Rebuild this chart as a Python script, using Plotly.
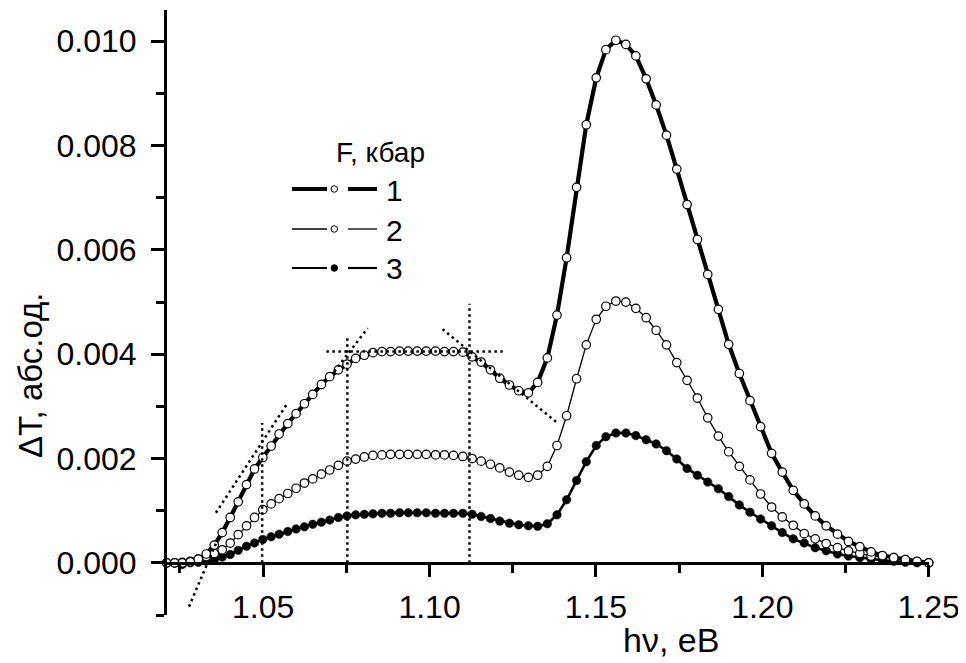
import plotly.graph_objects as go

# photon energy, eV (common grid for all curves)
hv = [1.0210, 1.0234, 1.0257, 1.0281, 1.0305, 1.0329, 1.0353, 1.0377, 1.0401, 1.0425,
      1.0450, 1.0474, 1.0499, 1.0524, 1.0548, 1.0574, 1.0599, 1.0624, 1.0649, 1.0675,
      1.0700, 1.0726, 1.0752, 1.0778, 1.0804, 1.0830, 1.0857, 1.0883, 1.0910, 1.0936,
      1.0963, 1.0990, 1.1018, 1.1045, 1.1072, 1.1100, 1.1128, 1.1155, 1.1183, 1.1211,
      1.1240, 1.1268, 1.1297, 1.1325, 1.1354, 1.1383, 1.1412, 1.1442, 1.1471, 1.1501,
      1.1530, 1.1560, 1.1590, 1.1620, 1.1651, 1.1681, 1.1712, 1.1743, 1.1774, 1.1805,
      1.1836, 1.1868, 1.1899, 1.1931, 1.1963, 1.1995, 1.2028, 1.2060, 1.2093, 1.2126,
      1.2159, 1.2192, 1.2226, 1.2259, 1.2293, 1.2327, 1.2361, 1.2395, 1.2430, 1.2465,
      1.2500]

# curve 1
dT1 = [0.00000, 0.00000, 0.00000, 0.00002, 0.00007, 0.00017, 0.00034, 0.00058, 0.00087, 0.00117,
       0.00150, 0.00180, 0.00202, 0.00224, 0.00247, 0.00267, 0.00286, 0.00305, 0.00323, 0.00342,
       0.00357, 0.00370, 0.00381, 0.00392, 0.00398, 0.00403, 0.00405, 0.00405, 0.00406, 0.00406,
       0.00406, 0.00406, 0.00406, 0.00405, 0.00405, 0.00404, 0.00395, 0.00385, 0.00370, 0.00354,
       0.00341, 0.00330, 0.00326, 0.00346, 0.00393, 0.00475, 0.00585, 0.00720, 0.00840, 0.00930,
       0.00984, 0.01002, 0.00994, 0.00972, 0.00928, 0.00878, 0.00820, 0.00755, 0.00687, 0.00620,
       0.00553, 0.00486, 0.00419, 0.00363, 0.00311, 0.00261, 0.00210, 0.00174, 0.00139, 0.00113,
       0.00090, 0.00071, 0.00055, 0.00041, 0.00031, 0.00021, 0.00014, 0.00010, 0.00006, 0.00003,
       0.00000]

# curve 2
dT2 = [0.00000, 0.00000, 0.00001, 0.00003, 0.00007, 0.00012, 0.00018, 0.00025, 0.00038, 0.00054,
       0.00071, 0.00087, 0.00102, 0.00113, 0.00123, 0.00133, 0.00143, 0.00153, 0.00161, 0.00170,
       0.00178, 0.00187, 0.00195, 0.00199, 0.00203, 0.00206, 0.00207, 0.00208, 0.00208, 0.00208,
       0.00208, 0.00208, 0.00207, 0.00207, 0.00206, 0.00204, 0.00200, 0.00195, 0.00189, 0.00182,
       0.00174, 0.00168, 0.00164, 0.00168, 0.00185, 0.00225, 0.00282, 0.00353, 0.00418, 0.00467,
       0.00492, 0.00502, 0.00500, 0.00488, 0.00470, 0.00446, 0.00418, 0.00384, 0.00350, 0.00316,
       0.00278, 0.00243, 0.00213, 0.00185, 0.00159, 0.00132, 0.00107, 0.00088, 0.00072, 0.00056,
       0.00046, 0.00037, 0.00029, 0.00023, 0.00018, 0.00013, 0.00012, 0.00010, 0.00006, 0.00002,
       0.00000]

# curve 3
dT3 = [0.00000, 0.00000, -0.00003, 0.00000, 0.00001, 0.00003, 0.00006, 0.00011, 0.00016, 0.00024,
       0.00032, 0.00038, 0.00045, 0.00050, 0.00055, 0.00060, 0.00065, 0.00069, 0.00074, 0.00078,
       0.00082, 0.00087, 0.00090, 0.00092, 0.00093, 0.00094, 0.00095, 0.00095, 0.00096, 0.00096,
       0.00096, 0.00096, 0.00095, 0.00095, 0.00095, 0.00095, 0.00093, 0.00089, 0.00085, 0.00080,
       0.00076, 0.00073, 0.00071, 0.00070, 0.00075, 0.00092, 0.00121, 0.00158, 0.00194, 0.00225,
       0.00242, 0.00249, 0.00249, 0.00244, 0.00236, 0.00228, 0.00215, 0.00199, 0.00181, 0.00168,
       0.00155, 0.00142, 0.00127, 0.00111, 0.00097, 0.00084, 0.00071, 0.00058, 0.00046, 0.00038,
       0.00029, 0.00023, 0.00017, 0.00013, 0.00010, 0.00007, 0.00005, 0.00003, 0.00001, 0.00000,
       0.00000]

# dotted construction lines: (x0, y0, x1, y1)
guide_x0 = [1.0277, 1.0358, 1.0714, 1.0497, 1.0753, 1.1120, 1.0690, 1.1039]
guide_y0 = [-0.00084, 0.00096, 0.00367, 0.0, 0.0, 0.0, 0.00405, 0.00448]
guide_x1 = [1.0368, 1.0570, 1.0814, 1.0497, 1.0753, 1.1120, 1.1220, 1.1385]
guide_y1 = [0.00052, 0.00303, 0.00450, 0.00268, 0.00437, 0.00497, 0.00405, 0.00268]

legend_title = "F, кбар"
legend_labels = ["1", "2", "3"]
x_title = "hν, eB"
y_title = "ΔT, абс.од."

FONT = "Liberation Sans, Arial, sans-serif"

fig = go.Figure()

fig.add_trace(go.Scatter(
    x=hv, y=dT3, mode="lines+markers", cliponaxis=False,
    line=dict(color="black", width=2.6),
    marker=dict(symbol="circle", size=8.5, color="black", line=dict(color="black", width=0.5))))
fig.add_trace(go.Scatter(
    x=hv, y=dT2, mode="lines+markers", cliponaxis=False,
    line=dict(color="black", width=1.3),
    marker=dict(symbol="circle", size=8.5, color="white", line=dict(color="black", width=1.2))))
fig.add_trace(go.Scatter(
    x=hv, y=dT1, mode="lines+markers", cliponaxis=False,
    line=dict(color="black", width=4.2),
    marker=dict(symbol="circle", size=8.5, color="white", line=dict(color="black", width=1.2))))

for a, b, c, d in zip(guide_x0, guide_y0, guide_x1, guide_y1):
    fig.add_trace(go.Scatter(
        x=[a, c], y=[b, d], mode="lines", cliponaxis=False,
        line=dict(color="black", width=2.5, dash="2.5px,3.5px")))

# page offset of the figure inside the html body (default 8px body margin)
OFF = 8
FIG_W, FIG_H = 966 - OFF, 663 - OFF
# plot-area edges in window pixels
L, T, B = 165.0, 10.0, 615.0
W, H = 764.0, 605.0

def px(xp):
    return (xp - L) / W

def py(yp):
    return (B - yp) / H

rows = [189, 229, 268]
widths = [4, 1.3, 2.2]
fills = ["white", "white", "black"]
shapes = []
annotations = []
for r, w, f, lab in zip(rows, widths, fills, legend_labels):
    shapes.append(dict(type="line", xref="paper", yref="paper",
                       x0=px(292), x1=px(327), y0=py(r), y1=py(r),
                       line=dict(color="black", width=w)))
    shapes.append(dict(type="line", xref="paper", yref="paper",
                       x0=px(348), x1=px(377), y0=py(r), y1=py(r),
                       line=dict(color="black", width=w)))
    shapes.append(dict(type="circle", xref="paper", yref="paper",
                       x0=px(331), x1=px(337.5), y0=py(r + 3.25), y1=py(r - 3.25),
                       fillcolor=f, line=dict(color="black", width=1)))
    annotations.append(dict(text=lab, xref="paper", yref="paper", x=px(384), y=py(r + 1),
                            xanchor="left", yanchor="middle", showarrow=False,
                            font=dict(size=30, family=FONT, color="black")))

annotations.append(dict(text=legend_title, xref="paper", yref="paper", x=px(334), y=py(152),
                        xanchor="left", yanchor="middle", showarrow=False,
                        font=dict(size=28, family=FONT, color="black")))
annotations.append(dict(text=y_title, xref="paper", yref="paper", x=px(31), y=py(376),
                        xanchor="center", yanchor="middle", textangle=-90, showarrow=False,
                        font=dict(size=33, family=FONT, color="black")))
annotations.append(dict(text=x_title, xref="paper", yref="paper", x=px(671), y=py(640),
                        xanchor="center", yanchor="middle", showarrow=False,
                        font=dict(size=34, family=FONT, color="black")))

fig.update_layout(
    width=FIG_W, height=FIG_H,
    margin=dict(l=L - OFF, r=FIG_W - (L - OFF) - W, t=T - OFF, b=FIG_H - (T - OFF) - H),
    paper_bgcolor="white", plot_bgcolor="white",
    showlegend=False,
    font=dict(family=FONT, size=32, color="black"),
    shapes=shapes, annotations=annotations,
    xaxis=dict(range=[1.0205, 1.2501], tick0=1.0, dtick=0.05, tickformat=".2f",
               ticks="outside", ticklen=12, tickwidth=3, tickcolor="black",
               showline=True, linewidth=3, linecolor="black",
               showgrid=False, zeroline=False, anchor="free", position=0.0862,
               ticklabelstandoff=3,
               minor=dict(tick0=1.0, dtick=0.025, ticks="outside", ticklen=8,
                          tickwidth=3, tickcolor="black", showgrid=False)),
    yaxis=dict(range=[-0.001, 0.0106], tick0=0, dtick=0.002, tickformat=".3f",
               ticks="outside", ticklen=13, tickwidth=3, tickcolor="black",
               showline=True, linewidth=3, linecolor="black",
               showgrid=False, zeroline=False, anchor="free", position=0,
               ticklabelstandoff=8,
               minor=dict(tick0=0, dtick=0.001, ticks="outside", ticklen=8,
                          tickwidth=3, tickcolor="black", showgrid=False)),
)

fig.write_html("out.html")
